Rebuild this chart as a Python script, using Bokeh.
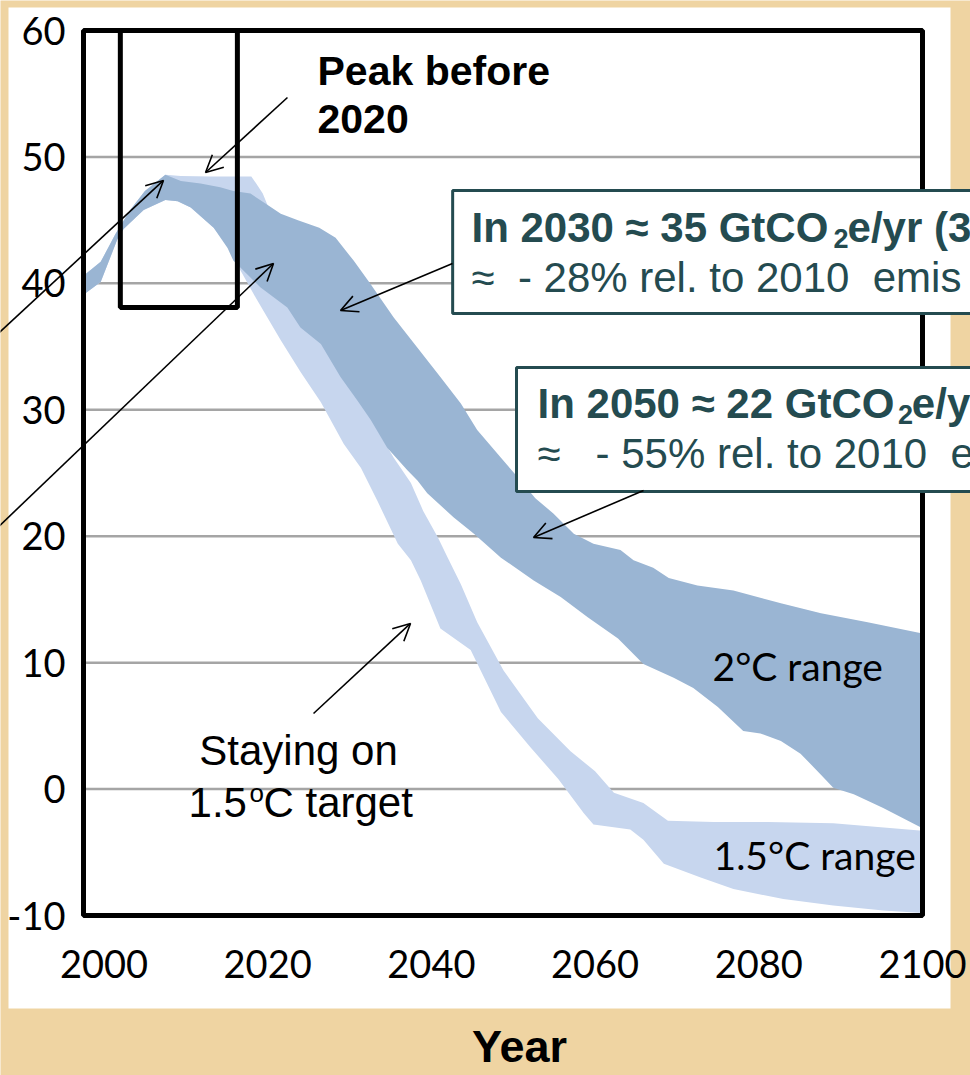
from bokeh.plotting import figure
from bokeh.models import Range1d, FixedTicker, BoxAnnotation, Label, Arrow, OpenHead, ColumnDataSource
from bokeh.embed import file_html
from bokeh.resources import INLINE

# ---------------- data ----------------
year_ticks = [2000, 2020, 2040, 2060, 2080, 2100]
value_ticks = [-10, 0, 10, 20, 30, 40, 50, 60]

# 2 degC range (GtCO2e/yr)
two_c_upper_year = [1997.5, 1999.6, 2001.4, 2003.2, 2005.0, 2007.5, 2009.4, 2011.8, 2014.2, 2015.8,
                    2017.9, 2020.0, 2021.6, 2023.7, 2026.3, 2028.3, 2030.5, 2032.5, 2035.4, 2038.3,
                    2041.1, 2043.6, 2045.6, 2048.5, 2050.5, 2052.7, 2054.9, 2057.4, 2059.8, 2063.1,
                    2064.7, 2067.1, 2069.0, 2072.5, 2076.9, 2082.7, 2087.6, 2093.3, 2100.0]
two_c_upper_val = [40.6, 41.7, 43.9, 45.8, 47.3, 48.6, 48.1, 47.9, 47.6, 47.3,
                   47.1, 46.2, 45.5, 45.0, 44.4, 43.6, 41.8, 40.0, 37.3, 34.9,
                   32.6, 30.5, 28.4, 26.2, 24.7, 23.0, 21.8, 20.2, 19.4, 18.9,
                   18.1, 17.5, 16.7, 16.1, 15.7, 14.7, 13.9, 13.2, 12.3]
two_c_lower_year = [1997.5, 1999.6, 2001.65, 2002.4, 2004.85, 2007.5, 2009.0, 2010.6, 2013.4, 2015.1,
                    2015.8, 2019.1, 2022.4, 2024.0, 2026.5, 2028.9, 2031.0, 2032.6, 2034.6, 2037.1,
                    2038.3, 2039.5, 2042.7, 2045.2, 2048.5, 2052.5, 2055.8, 2059.1, 2062.8, 2065.9,
                    2069.6, 2072.0, 2075.0, 2078.1, 2080.2, 2082.7, 2085.1, 2087.5, 2089.1, 2091.6,
                    2095.2, 2100.0]
two_c_lower_val = [39.1, 40.1, 43.5, 44.3, 45.8, 46.6, 46.5, 46.0, 44.4, 42.8,
                   41.8, 39.7, 38.1, 36.5, 35.2, 32.6, 30.7, 29.2, 27.0, 25.2,
                   24.4, 23.4, 21.5, 20.2, 18.3, 16.5, 15.2, 13.6, 11.9, 9.9,
                   8.8, 8.0, 6.5, 4.6, 4.4, 3.8, 2.8, 1.2, 0.1, -0.4,
                   -1.5, -3.1]

# 1.5 degC range
one5_upper_year = [1997.5, 1999.6, 2001.4, 2003.2, 2005.0, 2007.5, 2009.4, 2013.0, 2018.0, 2018.6,
                   2019.4, 2020.1, 2026.5, 2033.4, 2035.4, 2037.5, 2039.0, 2040.8, 2042.0, 2043.6,
                   2045.6, 2048.8, 2053.0, 2057.0, 2060.0, 2062.3, 2065.9, 2068.9, 2074.5, 2081.1,
                   2089.1, 2100.0]
one5_upper_val = [40.6, 41.7, 43.9, 45.8, 47.3, 48.6, 48.5, 48.45, 48.45, 47.9,
                  47.1, 46.0, 37.5, 28.4, 26.2, 24.2, 22.0, 19.9, 18.3, 16.2,
                  13.2, 9.4, 5.6, 3.0, 1.4, -0.3, -1.1, -2.5, -2.6, -2.6,
                  -2.7, -3.3]
one5_lower_year = [1997.5, 1999.6, 2001.65, 2002.4, 2004.85, 2007.5, 2009.0, 2010.6, 2013.4, 2015.1,
                   2016.7, 2018.6, 2021.6, 2024.0, 2026.5, 2029.3, 2031.4, 2033.4, 2035.9, 2037.5,
                   2038.7, 2041.1, 2044.8, 2048.5, 2052.1, 2055.5, 2058.6, 2059.8, 2064.3, 2065.9,
                   2068.4, 2072.9, 2076.9, 2083.0, 2089.1, 2095.2, 2100.0]
one5_lower_val = [39.1, 40.1, 43.5, 44.3, 45.8, 46.6, 46.5, 46.0, 44.4, 43.0,
                  41.0, 38.8, 35.5, 33.0, 30.6, 27.3, 25.4, 22.8, 19.4, 18.1,
                  16.5, 12.7, 11.0, 6.1, 3.3, 0.8, -1.9, -2.8, -3.2, -4.0,
                  -5.9, -7.0, -7.9, -8.7, -9.2, -9.6, -9.8]

# "peak before 2020" window
peak_window_years = [2002.0, 2016.3]
peak_window_values = [38.1, 60.0]

# ---------------- layout / style ----------------
TAN = "#EFD4A2"
DARK = "#9AB5D3"
LIGHT = "#C7D6EE"
TEAL = "#244B50"
ARIAL = "Liberation Sans"

X0, X1 = 1997.5, 2100.0      # plotted year span (chart frame)
Y0, Y1 = -10.0, 60.0         # plotted value span
W, H = 970, 1075
FL, FR, FT, FB = 83, 922, 30, 915   # chart frame in canvas pixels
kx = (FR - FL) / (X1 - X0)
ky = (FB - FT) / (Y1 - Y0)

p = figure(width=W, height=H, output_backend="svg", toolbar_location=None, tools="",
           x_range=Range1d(X0 - FL / kx, X1 + (W - FR) / kx),
           y_range=Range1d(Y0 - (H - FB) / ky, Y1 + FT / ky),
           min_border=0, background_fill_color=TAN, border_fill_color=TAN)
p.outline_line_color = None
p.grid.visible = False

# white panel behind the chart
p.quad(left=[X0 - 75 / kx], right=[X1 + 28 / kx], top=[Y1 + 23 / ky], bottom=[Y0 - 93 / ky],
       fill_color="white", line_color=None)

# horizontal grid lines at the value ticks
p.segment(x0=[X0] * len(value_ticks), x1=[X1] * len(value_ticks), y0=value_ticks, y1=value_ticks,
          line_color="#A5A5A5", line_width=2.5)

# axes drawn at the chart frame
for ax in (p.xaxis, p.yaxis):
    ax.axis_line_color = None
    ax.major_tick_line_color = None
    ax.minor_tick_line_color = None
    ax.major_label_text_font = "Lato"
    ax.major_label_text_font_size = "38px"
    ax.major_label_text_color = "black"
p.xaxis.ticker = FixedTicker(ticks=year_ticks)
p.yaxis.ticker = FixedTicker(ticks=value_ticks)
p.xaxis.fixed_location = Y0
p.yaxis.fixed_location = X0
p.xaxis.major_label_standoff = 28
p.yaxis.major_label_standoff = 12
p.yaxis.major_label_overrides = {v: str(v) for v in value_ticks}

# bands
src15 = ColumnDataSource(dict(x=one5_upper_year + one5_lower_year[::-1],
                              y=one5_upper_val + one5_lower_val[::-1]))
src2 = ColumnDataSource(dict(x=two_c_upper_year + two_c_lower_year[::-1],
                             y=two_c_upper_val + two_c_lower_val[::-1]))
p.patch("x", "y", source=src15, fill_color=LIGHT, line_color=None)
p.patch("x", "y", source=src2, fill_color=DARK, line_color=None)

# chart frame
p.quad(left=[X0], right=[X1], bottom=[Y0], top=[Y1], fill_color=None, line_color="black", line_width=5)

# peak window
p.quad(left=[peak_window_years[0]], right=[peak_window_years[1]],
       bottom=[peak_window_values[0]], top=[peak_window_values[1]],
       fill_color=None, line_color="black", line_width=5)

# annotation boxes
p.add_layout(BoxAnnotation(left=2042.6, right=2112, top=47.34, bottom=37.62,
                           fill_color="white", fill_alpha=1.0, line_color=TEAL, line_alpha=1.0,
                           line_width=3))
p.add_layout(BoxAnnotation(left=2050.4, right=2112, top=33.34, bottom=23.54,
                           fill_color="white", fill_alpha=1.0, line_color=TEAL, line_alpha=1.0,
                           line_width=3))


def lab(x, y, text, size, color="black", bold=False, align="left", font=ARIAL):
    # y is the wanted baseline; lift a little to compensate for the text box offset
    px = float(size.replace("px", ""))
    p.add_layout(Label(x=x, y=y + 0.36 * px / ky, text=text, text_font=font, text_font_size=size,
                       text_font_style="bold" if bold else "normal", text_color=color,
                       text_align=align, text_baseline="alphabetic"))


NB = "\u00a0"
# box 1
lab(2044.9, 43.23, "In 2030 ≈ 35 GtCO", "42px", TEAL, True)
lab(2089.13, 42.76, "2", "27px", TEAL, True)
lab(2090.84, 43.23, "e/yr (3", "42px", TEAL, True)
lab(2044.9, 39.28, "≈" + NB + NB + "- 28% rel. to 2010" + NB + NB + "emis", "42px", TEAL)
# box 2
lab(2052.97, 29.31, "In 2050 ≈ 22 GtCO", "42px", TEAL, True)
lab(2097.0, 28.84, "2", "27px", TEAL, True)
lab(2098.7, 29.31, "e/y", "42px", TEAL, True)
lab(2052.97, 25.36, "≈" + NB + NB + NB + "- 55% rel. to 2010" + NB + NB + "e", "42px", TEAL)

# other texts
lab(2026.09, 55.65, "Peak before", "41px", bold=True)
lab(2026.09, 51.85, "2020", "41px", bold=True)
lab(2023.77, 1.87, "Staying on", "42px", align="center")
lab(2010.33, -2.25, "1.5", "42px")
lab(2017.78, -1.06, "o", "26px")
lab(2019.49, -2.25, "C target", "42px")
lab(2074.35, 8.59, "2°C range", "39px", font="Lato")
lab(2074.47, -6.36, "1.5°C range", "39px", font="Lato")
lab(2050.77, -21.63, "Year", "45px", bold=True, align="center")

# arrows
arrows = [((2022.42, 54.70), (2012.41, 48.77)),
          ((1987.20, 36.10), (2007.27, 48.14)),
          ((1987.20, 20.80), (2020.71, 41.57)),
          ((2042.58, 41.57), (2028.90, 37.85)),
          ((2065.92, 23.62), (2052.48, 19.90)),
          ((2025.60, 5.98), (2037.45, 13.10))]
for (xs, ys), (xe, ye) in arrows:
    p.add_layout(Arrow(x_start=xs, y_start=ys, x_end=xe, y_end=ye, line_color="black", line_width=1.6,
                       end=OpenHead(size=17, line_width=1.6, line_color="black")))

open("out.html", "w").write(file_html(p, INLINE, title="Emission pathways"))
